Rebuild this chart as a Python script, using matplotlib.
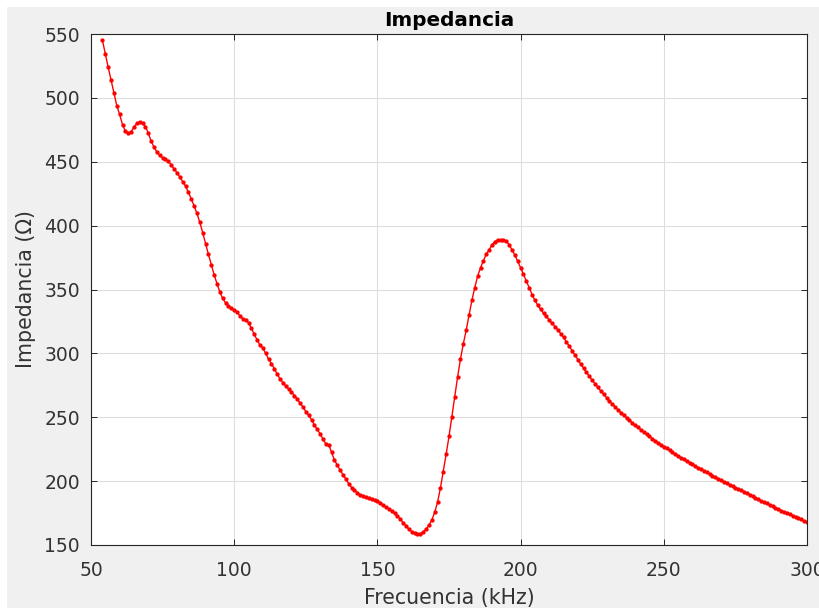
import matplotlib
matplotlib.use("Agg")
import matplotlib.pyplot as plt
import numpy as np
from matplotlib.patches import Rectangle

# Impedance sweep, one sample per kHz starting at 54 kHz
freq_start_khz = 54
impedance_ohm = [
    545, 534.5, 524, 514, 504, 494,
    487, 479, 474, 472.5, 473.5, 477, 480, 481, 480, 477.5,
    472.5, 466, 461.5, 457.5, 455, 453, 452, 450.5, 447.5, 444.5,
    441.5, 438, 434.5, 431, 426, 421, 415.5, 409.5, 402.5, 394.5,
    386, 377.5, 369.5, 361.5, 354.5, 348, 343, 339.5, 337, 335.5,
    334, 332, 329.5, 327, 326, 324, 319.5, 315, 310.5, 306.5,
    304, 300, 295.5, 292, 288, 284, 280, 277, 274.5, 272,
    270, 267, 264.5, 261, 258, 254.5, 251.5, 248, 244, 240.5,
    237, 233, 229, 228.5, 222.5, 216.5, 212.5, 208.5, 205, 201.5,
    198, 195, 193, 191, 189.5, 188.5, 187.5, 186.8, 186, 185.3,
    184.6, 183, 181.2, 179.5, 178, 176.5, 174.8, 172.8, 170.3, 167.5,
    165, 162.5, 160.5, 159.5, 159, 159, 159.8, 162.5, 165.5, 169.5,
    175.5, 183.5, 194.5, 207.5, 221, 235, 250.5, 266, 281.5, 295.5,
    307.5, 318, 330, 341.5, 351.5, 360.5, 367, 372.5, 377.5, 381,
    385, 387.5, 389, 388.5, 388.5, 388, 385, 381, 377, 372,
    367, 362, 356.5, 351.5, 346, 341.5, 337.5, 334.5, 331.5, 329,
    326, 323.5, 321, 318.5, 315.5, 312.5, 309, 305.5, 302, 298.5,
    295, 291.6, 288.3, 285.1, 282.0, 279.0, 276.1, 273.3, 270.6, 268.0,
    265.3, 262.8, 260.4, 258.1, 255.9, 253.7, 251.6, 249.6, 247.6, 245.7,
    243.8, 242.0, 240.2, 238.4, 236.7, 235.0, 233.3, 231.7, 230.1, 228.6,
    227.1, 225.6, 224.1, 222.6, 221.2, 219.8, 218.4, 217.0, 215.7, 214.4,
    213.1, 211.8, 210.5, 209.2, 208.0, 206.8, 205.6, 204.4, 203.2, 202.0,
    200.8, 199.6, 198.4, 197.2, 196.1, 195.0, 193.9, 192.8, 191.7, 190.6,
    189.3, 188.1, 186.9, 185.8, 184.7, 183.6, 182.5, 181.4, 180.3, 179.2,
    178.1, 177.0, 176.0, 175.0, 174.0, 173.0, 172.0, 171.0, 170.0, 169.0,
    168.0,
]
freq_khz = np.arange(freq_start_khz, freq_start_khz + len(impedance_ohm))

x_ticks = [50, 100, 150, 200, 250, 300]
y_ticks = [150, 200, 250, 300, 350, 400, 450, 500, 550]

title_text = "Impedancia"
x_label = "Frecuencia (kHz)"
y_label = "Impedancia (\u03a9)"

W, H = 820, 608
fig = plt.figure(figsize=(W / 100, H / 100), dpi=100, facecolor="#f0f0f0")

# thin white margin along the top and left edges
fig.patches.append(Rectangle((0, 0), 7 / W, 1, transform=fig.transFigure,
                             facecolor="white", edgecolor="none", zorder=-5))
fig.patches.append(Rectangle((0, 1 - 7 / H), 1, 7 / H, transform=fig.transFigure,
                             facecolor="white", edgecolor="none", zorder=-5))

left, right, top, bottom = 91, 807, 34, 545
ax = fig.add_axes([left / W, 1 - bottom / H, (right - left) / W, (bottom - top) / H])
ax.set_facecolor("white")

ax.plot(freq_khz, impedance_ohm, color="#ff0000", lw=1.0,
        marker="o", ms=3.1, mew=0, mfc="#ff0000")

ax.set_xlim(50, 300)
ax.set_ylim(150, 550)
ax.set_xticks(x_ticks)
ax.set_yticks(y_ticks)

ax.grid(True, color="#dedede", lw=0.8)
ax.set_axisbelow(True)

axis_color = "#262626"
label_color = "#333333"
for sp in ax.spines.values():
    sp.set_color(axis_color)
    sp.set_linewidth(0.8)

ax.tick_params(direction="in", length=4.5, width=0.7, color=axis_color,
               labelsize=13.5, labelcolor=label_color, top=True, right=True)
ax.tick_params(axis="x", pad=11.5)
ax.tick_params(axis="y", pad=8)

ax.set_title(title_text, fontsize=14.4, fontweight="bold", pad=5.8, color="black")
ax.set_xlabel(x_label, fontsize=14.8, color=label_color)
ax.set_ylabel(y_label, fontsize=14.8, color=label_color)
ax.xaxis.set_label_coords(0.5, -0.085)
ax.yaxis.set_label_coords(-0.077, 0.5)

fig.savefig("out.png", dpi=100, facecolor=fig.get_facecolor())
